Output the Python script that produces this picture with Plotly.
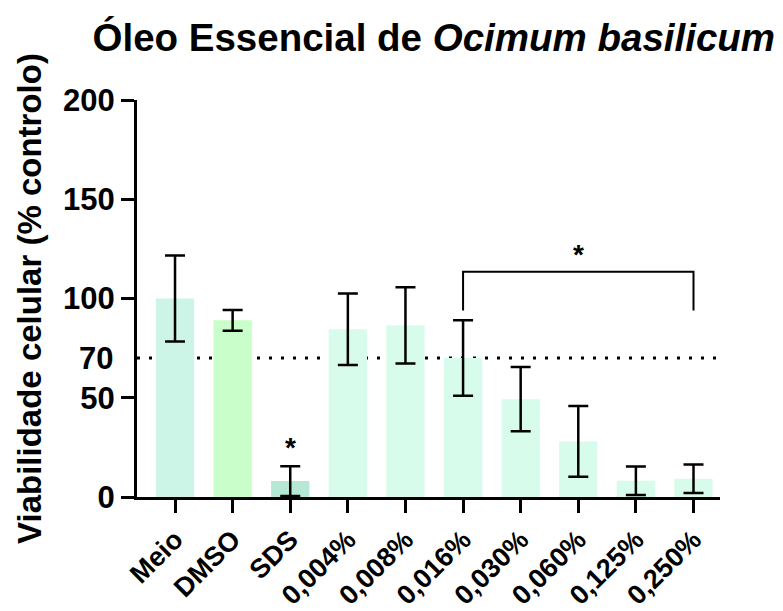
import plotly.graph_objects as go

categories = ["Meio", "DMSO", "SDS", "0,004%", "0,008%", "0,016%", "0,030%", "0,060%", "0,125%", "0,250%"]
means = [100, 89, 8, 84.5, 86.5, 70, 49.3, 28, 8.2, 9.2]
sds = [21.7, 5.2, 7.5, 18, 19.2, 19, 16.2, 17.8, 7.2, 7.2]
bar_colors = ["#CCF5E7", "#C9FDCA", "#B5E8D5", "#D7FCEB", "#D7FCEB", "#D7FCEB", "#D7FCEB", "#D7FCEB", "#D7FCEB", "#D7FCEB"]
y_ticks = [0, 50, 100, 150, 200]
threshold = 70
sds_star_y = 25
bracket_from, bracket_to = "0,016%", "0,250%"
bracket_top, bracket_bottom = 113.5, 94
bracket_star_x, bracket_star_y = "0,060%", 122

FONT = "Liberation Sans, Arial"

fig = go.Figure()
fig.add_trace(go.Bar(
    x=categories, y=means, width=0.665,
    marker=dict(color=bar_colors, line=dict(width=0)),
    error_y=dict(type="data", array=sds, visible=True, color="black", thickness=2.5, width=10),
))

idx = {c: i for i, c in enumerate(categories)}
fig.add_shape(type="line", xref="paper", yref="y", x0=0, x1=1, y0=threshold, y1=threshold,
              line=dict(color="black", width=3, dash="3px,9px"), layer="below")
fig.add_shape(type="path", xref="x", yref="y",
              path=f"M {idx[bracket_from]},{bracket_bottom} L {idx[bracket_from]},{bracket_top} "
                   f"L {idx[bracket_to]},{bracket_top} L {idx[bracket_to]},{bracket_bottom}",
              line=dict(color="black", width=2))

fig.add_annotation(x="SDS", y=sds_star_y, text="<b>*</b>", showarrow=False,
                   font=dict(size=28, color="black", family=FONT))
fig.add_annotation(x=bracket_star_x, y=bracket_star_y, text="<b>*</b>", showarrow=False,
                   font=dict(size=28, color="black", family=FONT))
fig.add_annotation(xref="paper", x=0, y=threshold, text="<b>70</b>", showarrow=False,
                   xanchor="right", xshift=-22,
                   font=dict(size=31, color="black", family=FONT))

fig.update_layout(
    width=783, height=611,
    margin=dict(l=137, r=63, t=100, b=114),
    plot_bgcolor="white", paper_bgcolor="white",
    showlegend=False,
    font=dict(family=FONT, color="black"),
    title=dict(text="<b>Óleo Essencial de <i>Ocimum basilicum</i></b>",
               x=0.554, xanchor="center", y=0.938, yanchor="middle",
               font=dict(size=38.5, color="black", family=FONT)),
)
fig.update_xaxes(
    range=[-0.66, 9.46], showline=True, linewidth=3, linecolor="black",
    ticks="outside", ticklen=13, tickwidth=3, tickcolor="black",
    tickangle=-45, tickfont=dict(size=27, color="black", family=FONT),
    tickprefix="<b>", ticksuffix="</b>", showgrid=False, zeroline=False,
    automargin=False,
)
fig.update_yaxes(
    range=[0, 200], tickvals=y_ticks, ticktext=[f"<b>{v}</b>" for v in y_ticks],
    showline=True, linewidth=3, linecolor="black",
    ticks="outside", ticklen=13, tickwidth=3, tickcolor="black",
    tickfont=dict(size=31, color="black", family=FONT),
    showgrid=False, zeroline=False, automargin=False,
    title=dict(text="<b>Viabilidade celular (% controlo)</b>", standoff=12,
               font=dict(size=33, color="black", family=FONT)),
)
fig.write_html("out.html")
